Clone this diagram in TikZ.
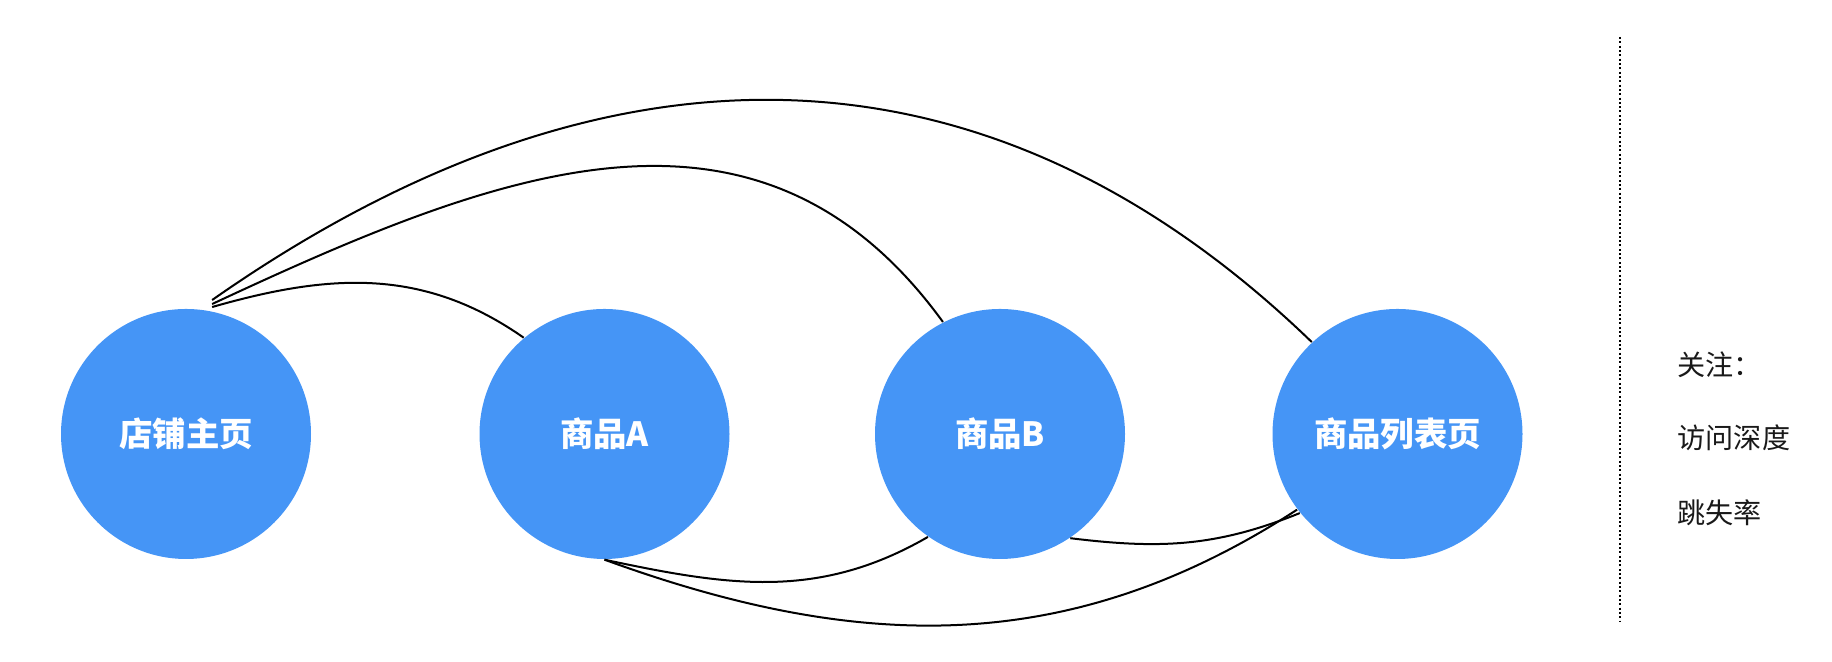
\documentclass[tikz,border=0pt]{standalone}
\usepackage{fontspec}
\setmainfont{Noto Sans CJK SC}
\definecolor{bubbleblue}{HTML}{4595F6}

\begin{document}
\begin{tikzpicture}[
	bubble/.style={circle, fill=bubbleblue, minimum size=2.5cm, inner sep=0pt, text=white, font=\fontsize{9.5}{11}\selectfont\bfseries},
	link/.style={line width=0.2mm, color=black},
	note/.style={anchor=west, inner sep=0pt, font=\fontsize{8}{10}\selectfont, color=black!90}
	]
			%%%%% START %%%%%
			
			\useasboundingbox (0, 0) rectangle (18.32, 6.62);
			
			\node[bubble] (shop) at (1.86, 2.28) {店铺主页};
			\node[bubble] (itemA) at (6.045, 2.28) {商品A};
			\node[bubble] (itemB) at (10.0, 2.28) {商品B};
			\node[bubble] (list) at (13.975, 2.28) {商品列表页};
			
			\draw[link] ([yshift=0.04cm]shop.78) to[out=16, in=145] (itemA.130);
			\draw[link] ([yshift=0.07cm]shop.78) to[out=25, in=126, looseness=1.1] (itemB.117);
			\draw[link] ([yshift=0.11cm]shop.78) to[out=35, in=136, looseness=1.08] (list.133);
			
			\draw[link] (itemA.south) to[out=-12, in=-150] (itemB.235);
			\draw[link] (itemA.south) to[out=-20, in=-147] (list.217);
			\draw[link] (itemB.304) to[out=-7, in=-158] (list.219);
			
			\draw[line width=0.2mm, dash pattern=on 0.57pt off 0.66pt] (16.2, 6.25) -- (16.2, 0.4);
			
			\node[note] (focus) at (16.77, 2.97) {关注：};
			\node[note] (depth) at (16.77, 2.24) {访问深度};
			\node[note] (bounce) at (16.77, 1.49) {跳失率};
			
			%%%%% END %%%%%
		\end{tikzpicture}
\end{document}
